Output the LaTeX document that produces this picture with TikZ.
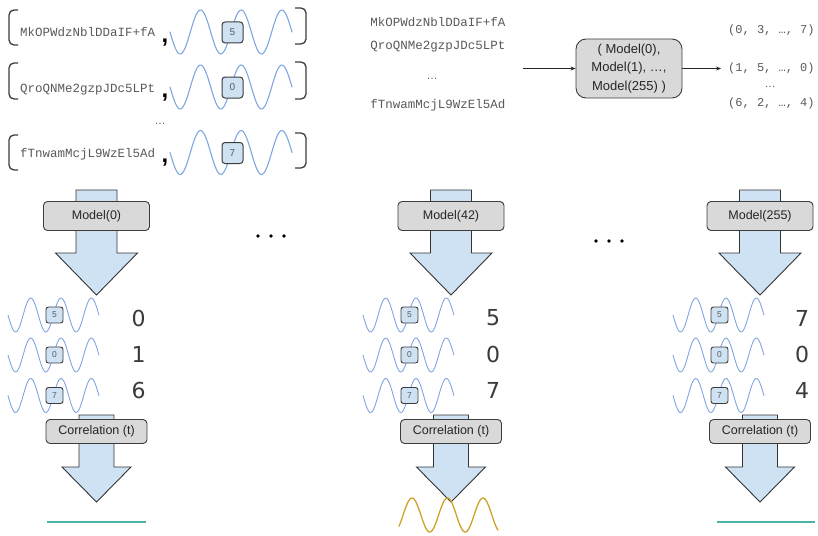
\documentclass[tikz,border=0pt]{standalone}
\usepackage{fontspec}
\setmainfont{Liberation Sans}
\newfontfamily\monofont{Liberation Mono}
\newfontfamily\digitfont{DejaVu Sans}
\usetikzlibrary{arrows.meta}

\definecolor{waveblue}{HTML}{7FA6E0}
\definecolor{lightblue}{HTML}{CFE2F3}
\definecolor{boxgray}{HTML}{D9D9D9}
\definecolor{boxline}{HTML}{3C3C3C}
\definecolor{arrowline}{HTML}{333333}
\definecolor{textgray}{HTML}{595959}
\definecolor{digitgray}{HTML}{3A3A3A}
\definecolor{tealline}{HTML}{4DB3A6}
\definecolor{goldwave}{HTML}{CFA12B}

\tikzset{
  wave/.style={draw=waveblue, line width=1.1pt, line cap=round},
  keybox/.style={draw=boxline, fill=lightblue, rounded corners=3pt, line width=1pt,
    minimum width=21pt, minimum height=21pt, inner sep=0pt,
    font=\fontsize{10}{10}\selectfont, text=textgray},
  smallkey/.style={keybox, minimum width=17pt, minimum height=16pt,
    rounded corners=2.5pt, line width=0.9pt, font=\fontsize{8.5}{8.5}\selectfont},
  hexstr/.style={font=\monofont\fontsize{12.5}{12.5}\selectfont, text=textgray, inner sep=0pt},
  tuple/.style={font=\monofont\fontsize{12}{12}\selectfont, text=textgray, inner sep=0pt},
  ellip/.style={font=\fontsize{11}{11}\selectfont, text=textgray, inner sep=0pt},
  sepcomma/.style={font=\bfseries\fontsize{24}{24}\selectfont, inner sep=0pt},
  modelbox/.style={draw=boxline, fill=boxgray, rounded corners=4pt, line width=0.9pt,
    minimum width=106pt, minimum height=29pt, inner sep=0pt,
    font=\fontsize{12.5}{12.5}\selectfont, text=black!85},
  corrbox/.style={modelbox, minimum width=101pt, minimum height=24pt},
  bigbox/.style={draw=boxline, fill=boxgray, rounded corners=10pt, line width=0.9pt,
    minimum width=106pt, minimum height=59pt, inner sep=0pt, align=center,
    font=\fontsize{13}{18.5}\selectfont, text=black!85},
  blockarrow/.style={draw=arrowline, fill=lightblue, line width=0.9pt, line join=miter},
  bignum/.style={font=\digitfont\fontsize{22}{22}\selectfont, text=digitgray, inner sep=0pt},
  bracket/.style={draw=boxline, line width=1.3pt, rounded corners=5pt},
  flow/.style={-{Stealth[length=5pt,width=4pt]}, line width=0.9pt, draw=black!85},
  dotmark/.style={fill=black, circle, inner sep=0pt, minimum size=3.6pt},
}

\begin{document}
\begin{tikzpicture}[x=1pt, y=-1pt]
\useasboundingbox (0,0) rectangle (818,535);

% ---------- input pairs: string, trace and key ----------
\foreach \i/\str/\k/\yc/\bt/\bb/\rt/\rb in
   {1/MkOPWdzNblDDaIF+fA/5/32/10/45/8/44,
    2/QroQNMe2gzpJDc5LPt/0/87/63/99/62/99,
    3/fTnwamMcjL9WzEl5Ad/7/152.5/135/170/133/168}{
  \draw[bracket] (18,\bt) -- (9,\bt) -- (9,\bb) -- (18,\bb);
  \draw[bracket] (295,\rt) -- (306,\rt) -- (306,\rb) -- (295,\rb);
  \node[hexstr, anchor=base west] (str\i) at (20,\yc+5) {\str};
  \node[sepcomma, anchor=base] (comma\i) at (165,\yc+10) {,};
  \draw[wave] plot[domain=0:3, samples=90] ({170+\x*40.67}, {\yc+22*sin(\x*360)});
  \node[keybox] (key\i) at (232.5,\yc+0.5) {\k};
}
\node[ellip] (pairdots) at (160,124) {\dots};

% ---------- all models applied to every string ----------
\node[hexstr] (s1) at (438,22) {MkOPWdzNblDDaIF+fA};
\node[hexstr] (s2) at (438,47) {QroQNMe2gzpJDc5LPt};
\node[ellip]  (sdots) at (432,79) {\dots};
\node[hexstr] (s3) at (438,105) {fTnwamMcjL9WzEl5Ad};

\node[bigbox] (allmodels) at (629,68.5) {( Model(0),\\Model(1), \dots,\\Model(255) )};
\coordinate (feed) at (523,68.5);
\coordinate (out) at (721,68.5);
\draw[flow] (feed) -- (allmodels.west);
\draw[flow] (allmodels.east) -- (out);

\node[tuple, anchor=west] (t1) at (728,30) {(0, 3, …, 7)};
\node[tuple, anchor=west] (t2) at (728,68) {(1, 5, …, 0)};
\node[ellip] (tdots) at (770,87) {\dots};
\node[tuple, anchor=west] (t3) at (728,103) {(6, 2, …, 4)};

% ---------- one column per model ----------
\foreach \c/\ws/\dx/\m/\na/\nb/\nc in
   {96.5/8/138.5/0/0/1/6,
    451/363/493/42/5/0/7,
    760/673/802/255/7/0/4}{
  \path[blockarrow] (\c-20.5,190) -- (\c+20.5,190) -- (\c+20.5,253) -- (\c+41,253)
      -- (\c,295) -- (\c-41,253) -- (\c-20.5,253) -- cycle;
  \node[modelbox] (model\m) at (\c,216) {Model(\m)};
  \foreach \r/\yc/\k/\n/\ny in {1/315/5/\na/318, 2/355/0/\nb/354.5, 3/395.5/7/\nc/390}{
    \draw[wave, line width=0.9pt] plot[domain=0:3, samples=80] ({\ws+\x*30.3}, {\yc+17*sin(\x*360)});
    \node[smallkey] (k\m-\r) at (\ws+46.5,\yc) {\k};
    \node[bignum] (n\m-\r) at (\dx,\ny) {\n};
  }
  \path[blockarrow] (\c-17.5,415) -- (\c+17.5,415) -- (\c+17.5,467) -- (\c+34.5,467)
      -- (\c,502) -- (\c-34.5,467) -- (\c-17.5,467) -- cycle;
  \node[corrbox] (corr\m) at (\c,431.5) {Correlation (t)};
}

% ---------- correlation results ----------
\draw[draw=tealline, line width=1.2pt] (47,522) -- (146,522);
\draw[draw=tealline, line width=1.2pt] (717,522) -- (815,522);
\draw[draw=goldwave, line width=1.3pt, line cap=round]
  plot[domain=0:99, samples=120] ({399+\x}, {515-17*sin(10.141*(\x-4.1))});

% ---------- elision marks between columns ----------
\foreach \x in {258,271,284} \node[dotmark] at (\x,236) {};
\foreach \x in {596,609,622} \node[dotmark] at (\x,241) {};
\end{tikzpicture}
\end{document}
